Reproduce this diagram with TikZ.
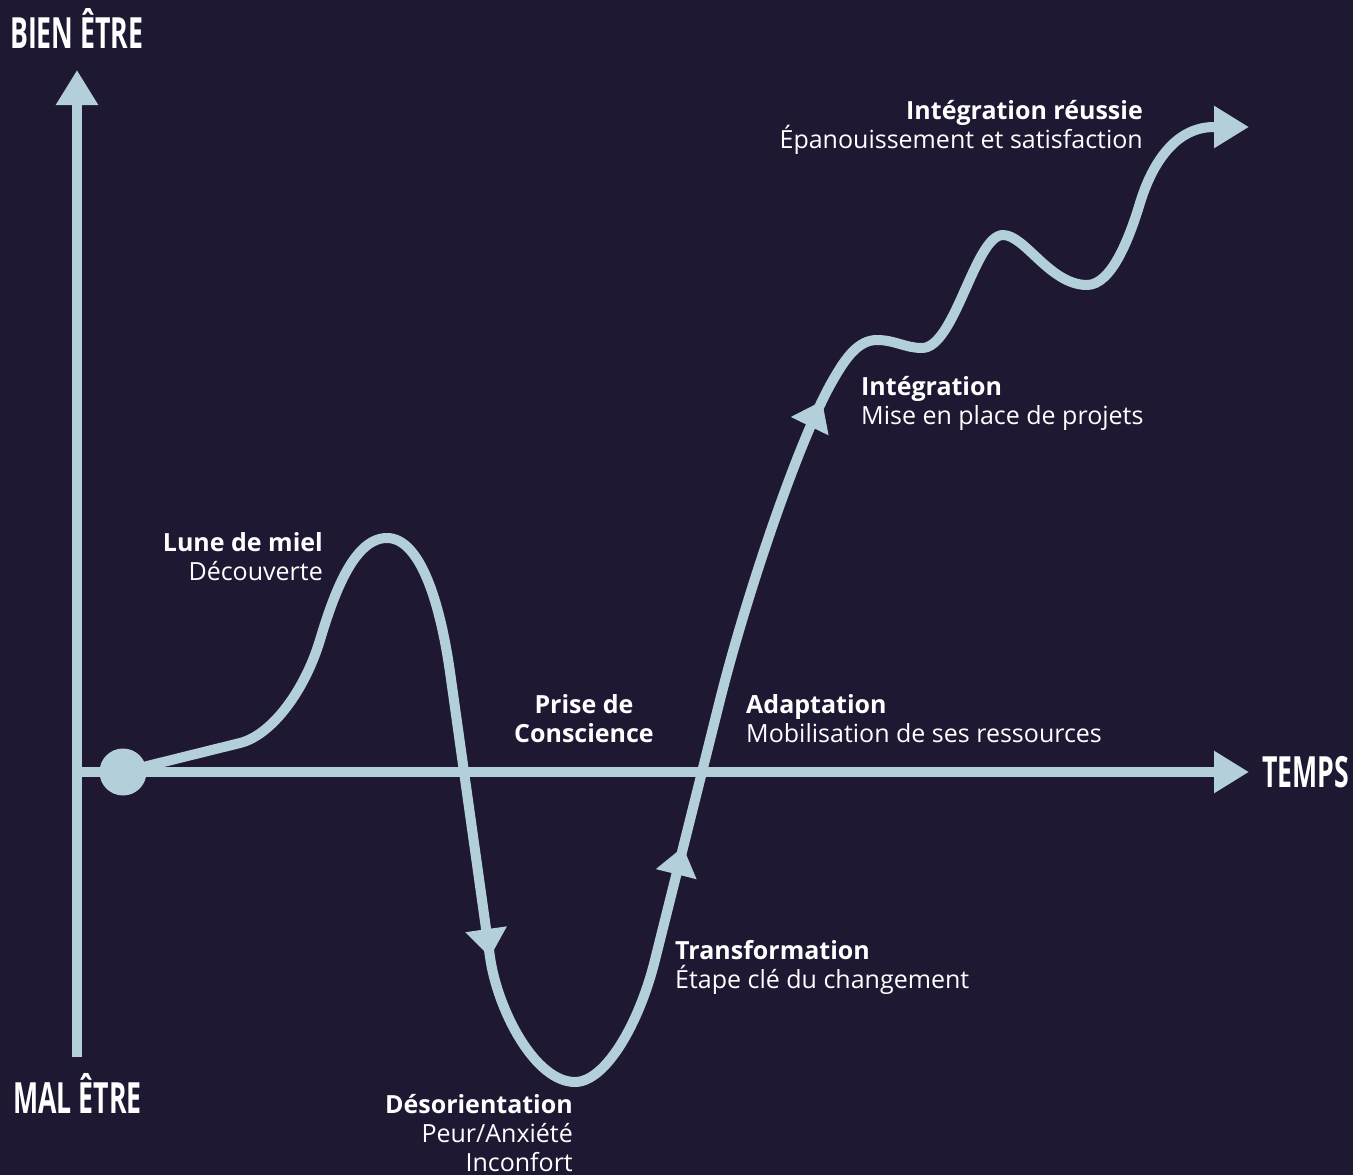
\documentclass[tikz,border=0pt]{standalone}
\usepackage{fontspec}
\setmainfont{Open Sans}
\usetikzlibrary{arrows.meta}
\definecolor{bgcol}{RGB}{30,24,51}
\definecolor{curvecol}{RGB}{178,207,218}
\begin{document}
\begin{tikzpicture}[x=1pt,y=-1pt,
  lbl/.style={text=white, inner sep=0pt, font=\fontsize{25}{29}\selectfont},
  lblb/.style={text=white, inner sep=0pt, font=\fontsize{25}{29}\selectfont\bfseries},
  ttl/.style={text=white, inner sep=0pt, font=\fontsize{43}{43}\selectfont\bfseries},
  axisline/.style={draw=curvecol, line width=10pt, -{Triangle[length=35pt,width=40pt]}},
  curveline/.style={draw=curvecol, line width=10pt, line join=round},
  midtip/.style={fill=curvecol},
  ]
\fill[bgcol] (0,0) rectangle (1353,1175);
\useasboundingbox (0,0) rectangle (1353,1175);

% axes
\coordinate (ybot) at (77,1057);
\coordinate (ytop) at (77,70);
\coordinate (orig) at (72,772);
\coordinate (xend) at (1249,772);
\draw[axisline] (ybot) -- (ytop);
\draw[axisline] (orig) -- (xend);

% start dot
\node[circle, fill=curvecol, minimum size=47pt, inner sep=0pt] (start) at (123,772) {};

% curve
\coordinate (cend) at (1249,127);
\draw[curveline, -{Triangle[length=35pt,width=40pt]}]
  (start.center) -- (240,743)
  .. controls (272,735) and (305,690) .. (320,640)
  .. controls (335,590) and (355,538) .. (387,538)
  .. controls (420,538) and (440,602) .. (450,672)
  -- (490,957)
  .. controls (497.5,1010) and (535,1082) .. (575,1082)
  .. controls (605,1082) and (638.75,1025) .. (655,960)
  -- (720,700)
  .. controls (745,600) and (798,440.6) .. (833,380)
  .. controls (845.5,358.3) and (858,340) .. (877,340)
  .. controls (895,340) and (905,348) .. (922,348)
  .. controls (955,348) and (975,235) .. (1003,235)
  .. controls (1025,235) and (1050,285) .. (1087,285)
  .. controls (1112,285) and (1130,236) .. (1140,203)
  .. controls (1150,170) and (1172,127) .. (1214,127)
  -- (cend);

% mid-curve arrowheads
\fill[midtip, shift={(490,957)}, rotate=-82] (0,0) -- (-28,21) -- (-28,-21) -- cycle;
\fill[midtip, shift={(683,847)}, rotate=76] (0,0) -- (-28,21) -- (-28,-21) -- cycle;
\fill[midtip, shift={(822,401)}, rotate=64] (0,0) -- (-28,21) -- (-28,-21) -- cycle;

% axis titles
\node[ttl, anchor=base west] (bien) at (10,48) {\scalebox{0.62}[1]{BIEN ÊTRE}};
\node[ttl, anchor=base west] (mal) at (13,1113) {\scalebox{0.62}[1]{MAL ÊTRE}};
\node[ttl, anchor=base west] (temps) at (1262,787) {\scalebox{0.62}[1]{TEMPS}};

% labels
\node[lblb, anchor=base east] (lune1) at (323,551) {Lune de miel};
\node[lbl, anchor=base east] (lune2) at (323,580) {Découverte};

\node[lblb, anchor=base] (prise1) at (584,713) {Prise de};
\node[lblb, anchor=base] (prise2) at (584,742) {Conscience};

\node[lblb, anchor=base west] (adapt1) at (746,713) {Adaptation};
\node[lbl, anchor=base west] (adapt2) at (746,742) {Mobilisation de ses ressources};

\node[lblb, anchor=base west] (integ1) at (861,395) {Intégration};
\node[lbl, anchor=base west] (integ2) at (861,424) {Mise en place de projets};

\node[lblb, anchor=base east] (reus1) at (1143,119) {Intégration réussie};
\node[lbl, anchor=base east] (reus2) at (1143,148) {Épanouissement et satisfaction};

\node[lblb, anchor=base west] (trans1) at (675,959) {Transformation};
\node[lbl, anchor=base west] (trans2) at (675,988) {Étape clé du changement};

\node[lblb, anchor=base east] (deso1) at (573,1113) {Désorientation};
\node[lbl, anchor=base east] (deso2) at (573,1142) {Peur/Anxiété};
\node[lbl, anchor=base east] (deso3) at (573,1171) {Inconfort};
\end{tikzpicture}
\end{document}
